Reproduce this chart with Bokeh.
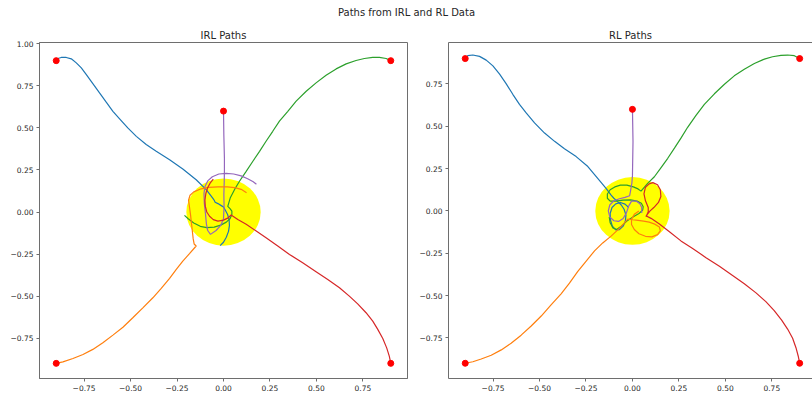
from bokeh.plotting import figure
from bokeh.layouts import column, row
from bokeh.models import Range1d, Label, FixedTicker, CustomJSTickFormatter, LinearAxis
from bokeh.embed import file_html
from bokeh.resources import INLINE

# ---------------- data ----------------
suptitle = "Paths from IRL and RL Data"
panel_titles = ["IRL Paths", "RL Paths"]
x_ticks = [-0.75, -0.5, -0.25, 0.0, 0.25, 0.5, 0.75]
y_ticks = [-0.75, -0.5, -0.25, 0.0, 0.25, 0.5, 0.75, 1.0]

start_x = [-0.9, 0.9, 0.0, -0.9, 0.9]
start_y = [0.9, 0.9, 0.6, -0.9, -0.9]
goal_x, goal_y, goal_r = 0.0, 0.0, 0.2

path_colors = ["#1f77b4", "#2ca02c", "#9467bd", "#ff7f0e", "#d62728"]

# ---- IRL paths ----
irl_blue_x = [-0.90, -0.891, -0.873, -0.846, -0.819, -0.792, -0.765, -0.738, -0.703, -0.667, -0.631, -0.595,
              -0.559, -0.515, -0.469, -0.416, -0.362, -0.29, -0.219, -0.147, -0.093, -0.058, -0.05, -0.045,
              -0.03, -0.012, 0.0, 0.01, 0.022, 0.03, 0.032, 0.027, 0.015, 0.0, -0.018]
irl_blue_y = [0.90, 0.913, 0.919, 0.919, 0.911, 0.887, 0.857, 0.817, 0.764, 0.708, 0.653, 0.599,
              0.554, 0.50, 0.45, 0.401, 0.361, 0.311, 0.256, 0.192, 0.133, 0.083, 0.07, 0.058,
              0.05, 0.038, 0.03, 0.01, -0.015, -0.045, -0.08, -0.115, -0.15, -0.18, -0.20]

irl_green_x = [0.90, 0.875, 0.839, 0.803, 0.758, 0.713, 0.66, 0.606, 0.552, 0.498, 0.445, 0.391, 0.346,
               0.301, 0.265, 0.229, 0.194, 0.158, 0.122, 0.086, 0.059, 0.036, 0.023, 0.035, 0.045, 0.045,
               0.035, 0.015, -0.015, -0.05, -0.09, -0.125, -0.16, -0.19, -0.21]
irl_green_y = [0.90, 0.913, 0.919, 0.919, 0.913, 0.901, 0.881, 0.851, 0.813, 0.768, 0.718, 0.659, 0.599,
               0.54, 0.48, 0.421, 0.361, 0.302, 0.242, 0.183, 0.133, 0.083, 0.034, 0.02, 0.005, -0.015,
               -0.04, -0.06, -0.078, -0.09, -0.093, -0.085, -0.065, -0.04, -0.02]

irl_purple_x = [0.0, 0.002, 0.005, 0.005, 0.004, 0.002, 0.003, 0.0, -0.015, -0.04, -0.07, -0.085, -0.092,
                -0.097, -0.103, -0.105, -0.10, -0.085, -0.06, -0.025, 0.015, 0.055, 0.095, 0.13, 0.16, 0.177]
irl_purple_y = [0.60, 0.45, 0.32, 0.25, 0.185, 0.105, 0.03, -0.04, -0.08, -0.11, -0.133, -0.11, -0.07,
                -0.01, 0.05, 0.11, 0.15, 0.185, 0.21, 0.226, 0.23, 0.226, 0.215, 0.198, 0.18, 0.165]

irl_orange_x = [-0.90, -0.864, -0.81, -0.756, -0.703, -0.649, -0.595, -0.541, -0.488, -0.434, -0.38, -0.335,
                -0.29, -0.254, -0.219, -0.183, -0.147, -0.158, -0.163, -0.167, -0.172, -0.177, -0.183,
                -0.188, -0.18, -0.16, -0.12, -0.08, -0.03, 0.02, 0.06, 0.095, 0.124]
irl_orange_y = [-0.90, -0.891, -0.871, -0.847, -0.817, -0.778, -0.732, -0.685, -0.629, -0.57, -0.51, -0.454,
                -0.395, -0.341, -0.292, -0.248, -0.202, -0.19, -0.16, -0.12, -0.07, -0.02, 0.03,
                0.07, 0.10, 0.12, 0.138, 0.146, 0.15, 0.149, 0.145, 0.135, 0.115]

irl_red_x = [0.90, 0.892, 0.878, 0.857, 0.83, 0.803, 0.767, 0.722, 0.677, 0.624, 0.561, 0.498, 0.426, 0.355,
             0.292, 0.229, 0.176, 0.122, 0.077, 0.041, 0.025, 0.0, -0.03, -0.055, -0.075, -0.09, -0.098,
             -0.10, -0.095, -0.085, -0.07, -0.055]
irl_red_y = [-0.90, -0.857, -0.808, -0.752, -0.698, -0.649, -0.599, -0.546, -0.50, -0.45, -0.401, -0.355,
             -0.302, -0.252, -0.202, -0.153, -0.113, -0.073, -0.044, -0.018, -0.035, -0.048, -0.054, -0.045,
             -0.025, 0.0, 0.035, 0.07, 0.11, 0.145, 0.175, 0.195]

# ---- RL paths ----
rl_blue_x = [-0.90, -0.886, -0.859, -0.823, -0.787, -0.751, -0.715, -0.68, -0.644, -0.608, -0.572, -0.527,
             -0.473, -0.419, -0.366, -0.303, -0.24, -0.187, -0.142, -0.115, -0.10, -0.08, -0.06, -0.045,
             -0.035, -0.038, -0.05, -0.07, -0.09, -0.108, -0.118, -0.12, -0.11, -0.09, -0.065, -0.04, -0.02]
rl_blue_y = [0.90, 0.917, 0.921, 0.913, 0.891, 0.857, 0.808, 0.752, 0.689, 0.629, 0.579, 0.52,
             0.46, 0.411, 0.367, 0.321, 0.262, 0.192, 0.133, 0.093, 0.075, 0.055, 0.035, 0.01,
             -0.025, -0.06, -0.09, -0.11, -0.112, -0.09, -0.055, -0.015, 0.02, 0.042, 0.05, 0.04, 0.02]

rl_green_x = [0.90, 0.871, 0.835, 0.799, 0.754, 0.71, 0.656, 0.602, 0.548, 0.495, 0.441, 0.387, 0.342, 0.297,
              0.261, 0.226, 0.19, 0.154, 0.118, 0.082, 0.046, 0.03, 0.005, -0.03, -0.065, -0.095, -0.12,
              -0.135, -0.135, -0.12, -0.09, -0.05, -0.01, 0.025, 0.048, 0.058, 0.055, 0.035, 0.005, -0.03,
              -0.06, -0.085, -0.105, -0.12, -0.125]
rl_green_y = [0.90, 0.917, 0.921, 0.919, 0.911, 0.897, 0.871, 0.837, 0.798, 0.748, 0.692, 0.629, 0.565, 0.494,
              0.43, 0.371, 0.311, 0.256, 0.202, 0.163, 0.117, 0.13, 0.142, 0.152, 0.152, 0.142, 0.125,
              0.10, 0.075, 0.058, 0.058, 0.064, 0.065, 0.058, 0.045, 0.025, 0.005, -0.015, -0.035, -0.06,
              -0.09, -0.11, -0.10, -0.07, -0.035]

rl_purple_x = [0.0, 0.003, 0.0, -0.003, -0.01, -0.015, -0.04, -0.07, -0.10, -0.122, -0.13, -0.122, -0.10,
               -0.075, -0.05, -0.032, -0.02, -0.005, 0.02, 0.04, 0.05, 0.05]
rl_purple_y = [0.60, 0.41, 0.21, 0.165, 0.12, 0.09, 0.08, 0.072, 0.06, 0.035, 0.0, -0.035, -0.058,
               -0.062, -0.045, -0.01, 0.03, 0.058, 0.058, 0.042, 0.02, -0.012]

rl_orange_x = [-0.90, -0.859, -0.814, -0.76, -0.706, -0.653, -0.599, -0.545, -0.491, -0.438, -0.384, -0.339,
               -0.294, -0.249, -0.204, -0.16, -0.115, -0.07, -0.025, 0.0, 0.03, 0.06, 0.09, 0.12, 0.145, 0.15,
               0.135, 0.105, 0.07, 0.035, 0.01, -0.005, -0.005, 0.01, 0.035]
rl_orange_y = [-0.90, -0.891, -0.875, -0.853, -0.821, -0.782, -0.734, -0.68, -0.621, -0.555, -0.49, -0.427,
               -0.357, -0.296, -0.236, -0.189, -0.149, -0.103, -0.048, -0.052, -0.056, -0.06, -0.066, -0.078,
               -0.095, -0.118, -0.14, -0.153, -0.15, -0.135, -0.11, -0.08, -0.05, -0.02, 0.0]

rl_red_x = [0.90, 0.892, 0.88, 0.862, 0.835, 0.803, 0.763, 0.718, 0.665, 0.602, 0.539, 0.468, 0.396, 0.324,
            0.261, 0.199, 0.145, 0.10, 0.075, 0.085, 0.085, 0.07, 0.062, 0.07, 0.09, 0.11, 0.135, 0.15, 0.153,
            0.14, 0.115, 0.095, 0.08, 0.072]
rl_red_y = [-0.90, -0.857, -0.808, -0.752, -0.698, -0.645, -0.589, -0.536, -0.484, -0.43, -0.381, -0.327,
            -0.276, -0.222, -0.177, -0.123, -0.077, -0.044, -0.03, -0.005, 0.02, 0.06, 0.10, 0.14, 0.16, 0.167,
            0.155, 0.125, 0.085, 0.05, 0.02, 0.0, -0.02, -0.034]

irl_paths = [(irl_blue_x, irl_blue_y), (irl_green_x, irl_green_y), (irl_purple_x, irl_purple_y),
             (irl_orange_x, irl_orange_y), (irl_red_x, irl_red_y)]
rl_paths = [(rl_blue_x, rl_blue_y), (rl_green_x, rl_green_y), (rl_purple_x, rl_purple_y),
            (rl_orange_x, rl_orange_y), (rl_red_x, rl_red_y)]

# ---------------- styling ----------------
FONT = "DejaVu Sans"
SPINE = "#6e6e6e"
TXT = "#262626"

fmt = CustomJSTickFormatter(code="""
    const s = Math.abs(tick).toFixed(2);
    return (tick < -1e-9 ? '\u2212' : '') + s;
""")


def style_axis(ax, ticks):
    ax.ticker = FixedTicker(ticks=ticks)
    ax.formatter = fmt
    ax.axis_label = None
    ax.axis_line_color = SPINE
    ax.axis_line_width = 1
    ax.major_tick_line_color = SPINE
    ax.major_tick_in = 0
    ax.major_tick_out = 3
    ax.minor_tick_in = 0
    ax.minor_tick_out = 0
    ax.minor_tick_line_color = None
    ax.major_label_text_font = FONT
    ax.major_label_text_font_size = "7.5px"
    ax.major_label_text_color = TXT
    ax.major_label_standoff = 3


def make_panel(title, paths, width, xr, yr, outline):
    p = figure(width=width, height=371, x_range=Range1d(*xr), y_range=Range1d(*yr),
               output_backend="svg", toolbar_location=None,
               min_border_left=39, min_border_right=(2 if outline else 0),
               min_border_top=20, min_border_bottom=14)
    p.grid.visible = False
    p.background_fill_color = "white"
    p.border_fill_color = "white"
    p.title.text = title
    p.title.align = "center"
    p.title.text_font = FONT
    p.title.text_font_size = "10px"
    p.title.text_font_style = "normal"
    p.title.text_color = TXT
    p.title.standoff = 4
    if outline:
        p.outline_line_color = SPINE
        p.outline_line_width = 1
    else:
        p.outline_line_color = None
        top = LinearAxis(ticker=FixedTicker(ticks=[]), major_label_text_font_size="0px",
                         axis_line_color=SPINE, major_tick_line_color=None,
                         minor_tick_line_color=None, major_tick_out=0, minor_tick_out=0,
                         major_label_standoff=0, axis_label=None)
        p.add_layout(top, "above")
    style_axis(p.below[0], x_ticks)
    style_axis(p.left[0], y_ticks)

    p.ellipse(x=[goal_x], y=[goal_y], width=2 * goal_r, height=2 * goal_r,
              fill_color="#ffff00", line_color=None)
    for (xs, ys), c in zip(paths, path_colors):
        p.line(xs, ys, line_color=c, line_width=1.2)
    p.scatter(start_x, start_y, size=6, fill_color="red", line_color="red")
    return p


p1 = make_panel(panel_titles[0], irl_paths, 409, (-0.99, 0.99), (-0.99, 1.008), True)
p2 = make_panel(panel_titles[1], rl_paths, 403, (-0.99, 0.969), (-0.99, 0.995), False)

tfig = figure(width=812, height=22, x_range=Range1d(0, 812), y_range=Range1d(0, 22),
              output_backend="svg", toolbar_location=None, x_axis_type=None, y_axis_type=None,
              min_border=0)
tfig.outline_line_color = None
tfig.grid.visible = False
tfig.add_layout(Label(x=406, y=10.3, text=suptitle, text_align="center", text_baseline="middle",
                      text_font=FONT, text_font_size="10px", text_color=TXT))

layout = column(tfig, row(p1, p2, spacing=0), spacing=0)

with open("out.html", "w") as f:
    f.write(file_html(layout, INLINE))
